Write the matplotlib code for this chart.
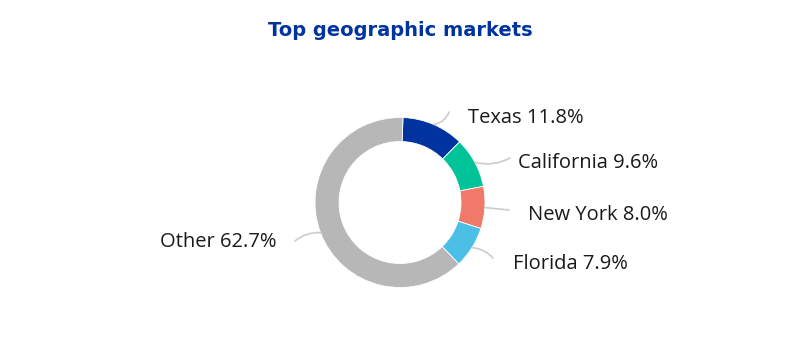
import numpy as np
import matplotlib
matplotlib.use("Agg")
import matplotlib.pyplot as plt

# chart data
markets = ["Texas", "California", "New York", "Florida", "Other"]
shares = [11.8, 9.6, 8.0, 7.9, 62.7]
colors = ["#0033a0", "#00c39a", "#ef7a6a", "#4bbfe6", "#b7b7b7"]

# label layout (pixel coords, y measured from the top of the image)
label_pos = [(468, 118), (518, 163), (528, 215), (513, 264), (277, 242)]
line_end = [(449, 112), (510, 158), (509, 210), (493, 258), (295, 241)]
line_rad = [-0.3, -0.2, 0.0, 0.2, -0.2]

W, H = 800, 352
plt.rcParams['font.family'] = ['Open Sans', 'DejaVu Sans']

fig = plt.figure(figsize=(W / 100, H / 100), dpi=100)
ax = fig.add_axes([0, 0, 1, 1])

cx, cy, r = 400, H - 202.5, 85
wedges, _ = ax.pie(shares, colors=colors, startangle=88, counterclock=False,
                   radius=r, center=(cx, cy),
                   wedgeprops=dict(width=24, edgecolor='white', linewidth=0.6))
ax.set_xlim(0, W)
ax.set_ylim(0, H)
ax.set_aspect('equal')
ax.axis('off')

for w, name, val, (tx, ty), (ex, ey), rad in zip(wedges, markets, shares,
                                                  label_pos, line_end, line_rad):
    mid = np.deg2rad((w.theta1 + w.theta2) / 2)
    ax_pt = (cx + r * np.cos(mid), cy + r * np.sin(mid))
    ax.annotate('', xy=ax_pt, xytext=(ex, H - ey),
                arrowprops=dict(arrowstyle='-', color='#cccccc', lw=1.2,
                                shrinkA=0, shrinkB=0,
                                connectionstyle='arc3,rad=%s' % rad))
    ha = 'left' if tx > cx else 'right'
    ax.text(tx, H - ty, f"{name} {val:.1f}%", ha=ha, va='center',
            fontsize=14.5, color='#1a1a1a')

ax.text(W / 2, H - 30, "Top geographic markets", ha='center', va='center',
        fontsize=14, fontweight='bold', color='#0033a0', family='DejaVu Sans')

fig.savefig("out.png", dpi=100)
